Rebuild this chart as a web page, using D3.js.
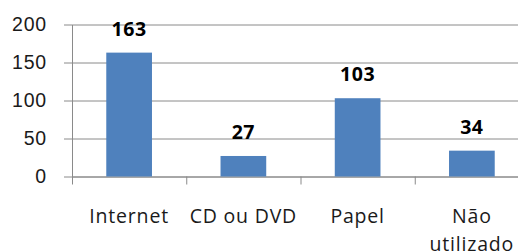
<!DOCTYPE html>
<html>
<head>
<meta charset="utf-8">
<script src="https://cdn.jsdelivr.net/npm/d3@7"></script>
<style>
  body { margin: 0; background: #fff; }
  svg { display: block; font-family: "Open Sans", sans-serif; }
</style>
</head>
<body>
<div id="chart"></div>
<script>
// chart data
const categories = ["Internet", "CD ou DVD", "Papel", "Não utilizado"];
const values = [163, 27, 103, 34];
const yTicks = [0, 50, 100, 150, 200];

const W = 518, H = 252;
const margin = { top: 24.5, left: 72, bottom: 75.5 };
const plotRight = 529; // plot area runs past the crop on the right
const plotW = plotRight - margin.left;
const plotBottom = H - margin.bottom;

const svg = d3.select("#chart").append("svg")
  .attr("width", W)
  .attr("height", H);

const x = d3.scaleBand()
  .domain(categories)
  .range([margin.left, plotRight])
  .paddingInner(0.6)
  .paddingOuter(0.3);

const y = d3.scaleLinear()
  .domain([0, 200])
  .range([plotBottom, margin.top]);

// gridlines
svg.append("g")
  .attr("transform", `translate(${margin.left},0)`)
  .call(d3.axisRight(y).tickValues(yTicks).tickSize(plotW).tickFormat(""))
  .call(g => g.select(".domain").remove())
  .call(g => g.selectAll("line").attr("stroke", "#8a8a8a"));

// y axis with labels
svg.append("g")
  .attr("transform", `translate(${margin.left},0)`)
  .call(d3.axisLeft(y).tickValues(yTicks).tickSizeInner(8).tickSizeOuter(0).tickPadding(17))
  .call(g => g.select(".domain").attr("stroke", "#8a8a8a"))
  .call(g => g.selectAll("line").attr("stroke", "#8a8a8a"))
  .call(g => g.selectAll("text")
    .attr("fill", "#1a1a1a")
    .style("font-size", "19.5px")
    .style("letter-spacing", "0.8px"));

// x axis: ticks at category boundaries
const xb = d3.scaleLinear().domain([0, categories.length]).range([margin.left, plotRight]);
svg.append("g")
  .attr("transform", `translate(0,${plotBottom})`)
  .call(d3.axisBottom(xb).tickValues(d3.range(categories.length + 1)).tickSizeInner(8).tickSizeOuter(0).tickFormat(""))
  .call(g => g.select(".domain").attr("stroke", "#8a8a8a"))
  .call(g => g.selectAll("line").attr("stroke", "#8a8a8a"));

// bars
svg.selectAll("rect.bar")
  .data(values)
  .join("rect")
  .attr("class", "bar")
  .attr("x", (d, i) => x(categories[i]))
  .attr("width", x.bandwidth())
  .attr("y", d => y(d))
  .attr("height", d => y(0) - y(d))
  .attr("fill", "#4f81bd");

// value labels
svg.selectAll("text.val")
  .data(values)
  .join("text")
  .attr("class", "val")
  .attr("x", (d, i) => x(categories[i]) + x.bandwidth() / 2)
  .attr("y", d => y(d) - 17)
  .attr("text-anchor", "middle")
  .attr("fill", "#000")
  .style("font-size", "19.5px")
  .style("font-weight", "bold")
  .style("letter-spacing", "0.6px")
  .text(d => d);

// category labels (wrap "Não utilizado" onto two lines)
const catLines = [["Internet"], ["CD ou DVD"], ["Papel"], ["Não", "utilizado"]];
svg.selectAll("text.cat")
  .data(categories)
  .join("text")
  .attr("class", "cat")
  .attr("text-anchor", "middle")
  .attr("fill", "#1a1a1a")
  .style("font-size", "19.5px")
  .style("letter-spacing", "0.8px")
  .each(function (d, i) {
    const cx = x(d) + x.bandwidth() / 2;
    d3.select(this).selectAll("tspan")
      .data(catLines[i])
      .join("tspan")
      .attr("x", cx)
      .attr("y", (l, j) => 223 + j * 28)
      .text(l => l);
  });
</script>
</body>
</html>
